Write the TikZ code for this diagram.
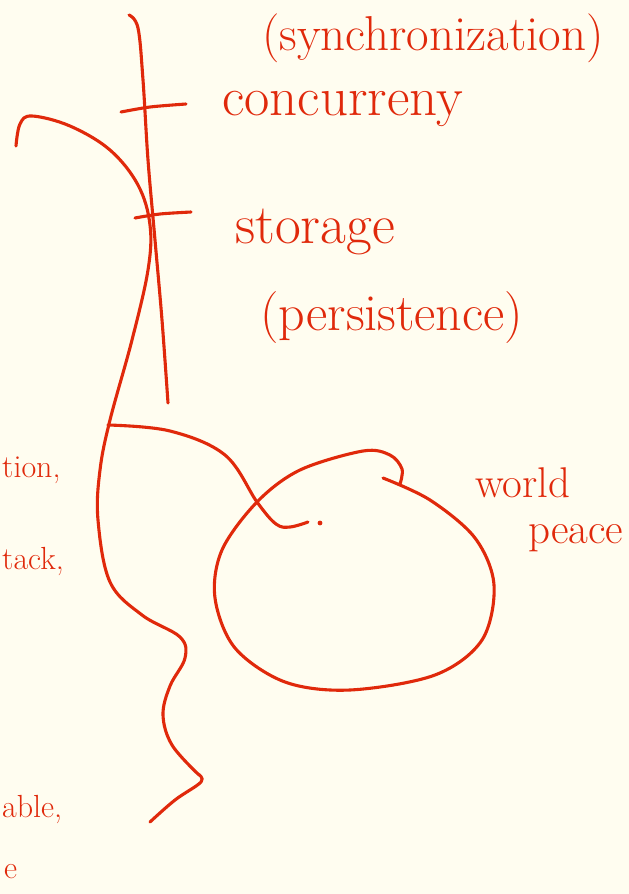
\documentclass[tikz,border=0pt]{standalone}
\definecolor{ink}{HTML}{E0290B}
\definecolor{paper}{HTML}{FFFDF0}
\begin{document}
\begin{tikzpicture}[x=1pt,y=-1pt,
  pen/.style={ink,line width=3.1pt,line cap=round,line join=round},
  hand/.style={ink,inner sep=0pt,font=\fontsize{#1}{#1}\selectfont},
  hand/.default=52]
\fill[paper] (0,0) rectangle (629,894);
\useasboundingbox (0,0) rectangle (629,894);
\clip (0,0) rectangle (629,894);

% vertical axis line
\draw[pen] plot[smooth,tension=0.6] coordinates {(129,15) (138,28) (143,80) (148,160) (155,240) (162,320) (168,403)};
% ticks
\draw[pen] plot[smooth] coordinates {(121,112) (150,107) (186,104)};
\draw[pen] plot[smooth] coordinates {(135,218) (160,214) (191,212)};

% long wavy curve
\draw[pen] plot[smooth,tension=0.6] coordinates {(16,146) (20,124) (32,116) (70,126) (110,150) (138,185) (150,225) (148,270) (132,340) (110,420) (100,470) (98,520) (110,582) (142,615) (180,637) (185,658) (170,686) (163,715) (172,745) (198,774)};
\draw[pen] plot[smooth,tension=0.6] coordinates {(198,774) (201,782) (175,800) (150,822)};

% branch to the centre
\draw[pen] plot[smooth,tension=0.6] coordinates {(108,425) (170,431) (225,455) (257,502) (276,524) (290,527) (308,522)};
\fill[ink] (320,523) circle (2.4pt);

% world peace loop
\draw[pen] plot[smooth,tension=0.55] coordinates {(383,478) (430,500) (475,538) (494,585) (482,640) (435,675) (350,690) (285,682) (235,648) (215,598) (222,550) (257,502) (300,470) (363,451) (390,455) (402,469) (400,484)};

% labels
\node[hand=49,anchor=base west] (sync) at (262,50) {(synchronization)};
\node[hand=55,anchor=base west] (conc) at (222,115) {concurreny};
\node[hand=56,anchor=base west] (stor) at (235,243) {storage};
\node[hand=52,anchor=base west] (pers) at (260,330) {(persistence)};
\node[hand=43,anchor=base west] (world) at (475,497) {world};
\node[hand=43,anchor=base west] (peace) at (528,543) {peace};
\node[hand=32,anchor=base west] (l1) at (2,477) {tion,};
\node[hand=32,anchor=base west] (l2) at (2,569) {tack,};
\node[hand=32,anchor=base west] (l3) at (2,817) {able,};
\node[hand=32,anchor=base west] (l4) at (4,878) {e};
\end{tikzpicture}
\end{document}
